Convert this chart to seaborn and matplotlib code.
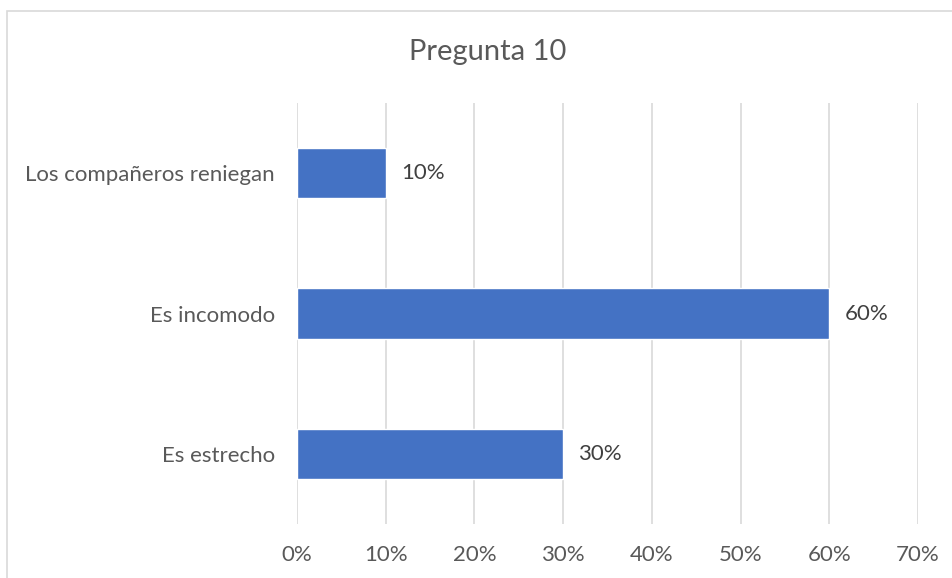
import matplotlib
matplotlib.use("Agg")
import matplotlib.pyplot as plt
import seaborn as sns
import pandas as pd
from matplotlib.patches import Rectangle

# data
categorias = ["Los compañeros reniegan", "Es incomodo", "Es estrecho"]
valores = [10, 60, 30]
ticks = [0, 10, 20, 30, 40, 50, 60, 70]

sns.set_theme(style="white")
plt.rcParams["font.family"] = ["Lato", "DejaVu Sans"]

df = pd.DataFrame({"Respuesta": categorias, "Porcentaje": valores})

fig = plt.figure(figsize=(9.53, 5.78), dpi=100)
ax = fig.add_axes([0.3116, 0.0934, 0.6517, 0.7284])

sns.barplot(data=df, y="Respuesta", x="Porcentaje", color="#4472C4",
            saturation=1, width=0.36, ax=ax, order=categorias)

ax.set_xlim(0, 70)
ax.set_ylim(2.5, -0.5)
ax.set_xticks(ticks)
ax.set_xticklabels([f"{t}%" for t in ticks])
ax.xaxis.grid(True, color="#D9D9D9", linewidth=1.2)
ax.set_axisbelow(True)
for s in ax.spines.values():
    s.set_visible(False)
ax.tick_params(axis="both", length=0, labelsize=16, colors="#595959")
ax.tick_params(axis="x", pad=15)
ax.tick_params(axis="y", pad=16)
ax.set_xlabel("")
ax.set_ylabel("")

ax.bar_label(ax.containers[0], labels=[f"{v}%" for v in valores],
             padding=11, fontsize=16, color="#404040")

fig.text(0.512, 0.91, "Pregunta 10", ha="center", va="center",
         fontsize=21, color="#595959")

fig.patches.append(Rectangle((7 / 953, -0.1), 1.2, 1.1 - 11 / 578,
                             transform=fig.transFigure, fill=False,
                             edgecolor="#D9D9D9", linewidth=1.2))

fig.savefig("out.png", dpi=100)
